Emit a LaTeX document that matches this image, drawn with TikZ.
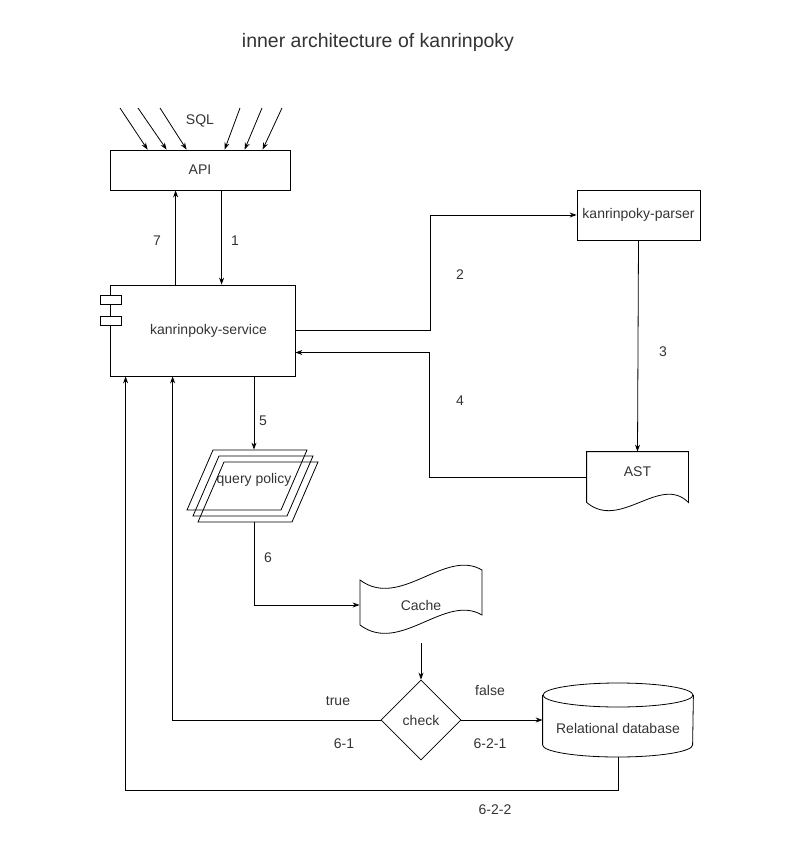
\documentclass[tikz,border=0pt]{standalone}
\usepackage{fontspec}
\setmainfont{Liberation Sans}
\usetikzlibrary{shapes.geometric,arrows.meta}

\begin{document}
\begin{tikzpicture}
	[x=1pt,y=-1pt,line width=0.8pt,
	every node/.style={font=\fontsize{14}{16}\selectfont,text=black!80},
	box/.style={draw,rectangle,inner sep=0pt},
	arr/.style={-{Stealth[length=7pt,width=5pt]}}]
	\useasboundingbox (0,0) rectangle (801,851);
	\node[font=\fontsize{19.5}{22}\selectfont] (title) at (378,42) {inner architecture of kanrinpoky};
	% API and incoming queries
	\node[box,minimum width=180,minimum height=40] (api) at (200,170) {API};
	\node (sql) at (200,121) {SQL};
	\foreach \s/\e [count=\i] in {120/38,138/57,160/77,240/115,262/135,282/153}{
		\coordinate (in\i) at (\s,108);
		\draw[arr] (in\i) -- ([xshift=\e pt]api.north west);
	}
	% service
	\node[box,minimum width=185,minimum height=91] (svc) at (202.5,330.5) {\hspace{12pt}kanrinpoky-service};
	\node[box,fill=white,minimum width=21,minimum height=9] (port1) at (110.5,300) {};
	\node[box,fill=white,minimum width=21,minimum height=9] (port2) at (110.5,320.5) {};
	% parser and AST
	\node[box,minimum width=123,minimum height=50] (parser) at (638.5,215) {kanrinpoky-parser};
	\node[minimum width=101,minimum height=50] (ast) at (637.5,477) {\raisebox{5pt}[\height][\depth]{AST}};
	\draw (ast.north west) -- (ast.north east) -- (ast.south east)
		.. controls (660,474) and (620,531) .. (ast.south west) -- cycle;
	% query policy
	\node[minimum width=94,minimum height=60] (qp) at (254,480) {query policy};
	\foreach \x/\y in {213/450,219/456,224/462}
		\draw (\x,\y) -- ++(94,0) -- ++(-26,60) -- ++(-94,0) -- cycle;
	% cache
	\node[minimum width=122,minimum height=76] (cache) at (421,605) {Cache};
	\draw (360,580) .. controls (400,610) and (445,548) .. (482,570) -- (482,615)
		.. controls (445,593) and (400,655) .. (360,625) -- cycle;
	% check and database
	\node[draw,diamond,aspect=1,minimum width=80,minimum height=80,inner sep=0pt] (chk) at (421,720) {check};
	\node[minimum width=150,minimum height=74] (db) at (618,720) {\raisebox{-8pt}[\height][\depth]{Relational database}};
	\draw (618,695) ellipse [x radius=75pt,y radius=12pt];
	\draw (db.west |- 0,695) -- (db.west |- 0,745) arc[start angle=180,end angle=360,x radius=75pt,y radius=12pt] -- (db.east |- 0,695);
	% connectors
	\draw[arr] ([xshift=66pt]svc.north west) -- ([xshift=66pt]api.south west);
	\draw[arr] ([xshift=112pt]api.south west) -- ([xshift=112pt]svc.north west);
	\draw[arr] (svc.east) -- ++(135,0) |- (parser.west);
	\draw[arr] (parser.south) -- (ast.north);
	\draw[arr] (ast.west) -- ++(-157,0) |- ([yshift=-22pt]svc.east);
	\draw[arr] (svc.south -| qp.north) -- (qp.north);
	\draw[arr] ([yshift=-12pt]qp.south) |- (cache.west);
	\draw[arr] (cache.south) -- (chk.north);
	\draw[arr] (chk.west) -| ([xshift=63pt]svc.south west);
	\draw[arr] (chk.east) -- (db.west);
	\draw[arr] (db.south) -- ++(0,33) -| ([xshift=16pt]svc.south west);
	% labels
	\node (l7) at (157,241) {7};
	\node (l1) at (235,241) {1};
	\node (l2) at (460,275) {2};
	\node (l3) at (663,352) {3};
	\node (l4) at (460,401) {4};
	\node (l5) at (263,421) {5};
	\node (l6) at (268,558) {6};
	\node (ltrue) at (338,701) {true};
	\node (l61) at (344,744) {6-1};
	\node (lfalse) at (490,690) {false};
	\node (l621) at (490,744) {6-2-1};
	\node (l622) at (495,810) {6-2-2};
\end{tikzpicture}
\end{document}
